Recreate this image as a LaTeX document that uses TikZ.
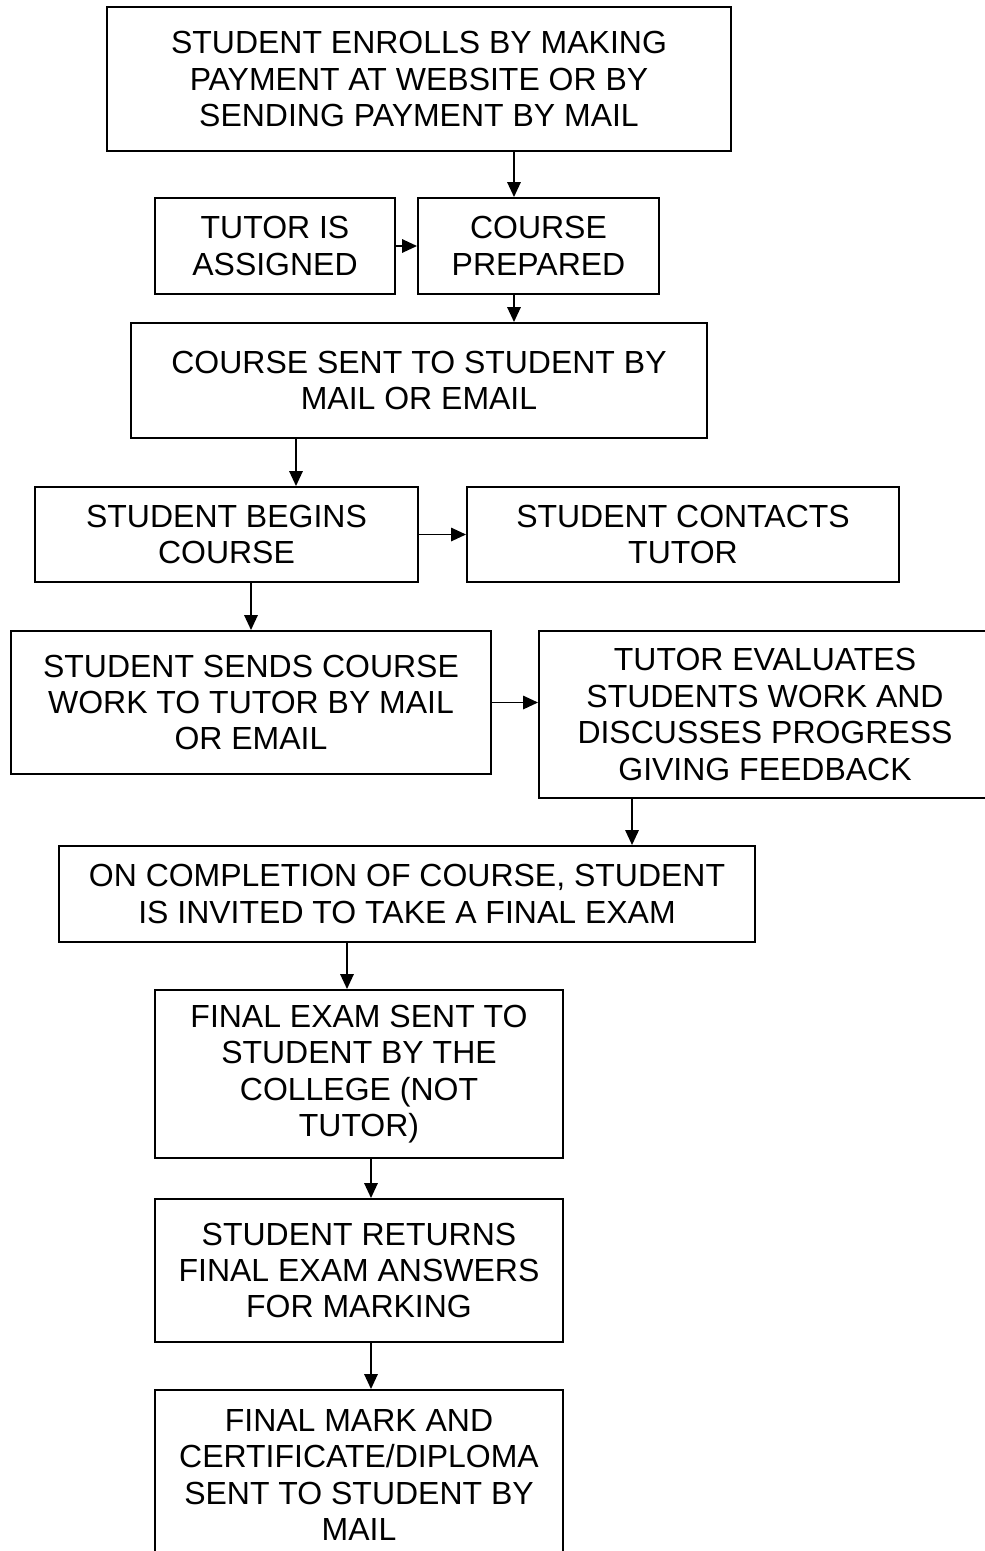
\documentclass[tikz,border=0pt]{standalone}
\usepackage{fontspec}
\setmainfont{Liberation Sans}
\usetikzlibrary{positioning,arrows.meta}
\tikzset{
  stage/.style   = {draw=black, line width=1.1pt, fill=white, align=center, inner sep=0pt,
                    font=\fontsize{18.2}{20.7}\selectfont},
  arrowto/.style = {-{Triangle[length=8.5pt,width=7.6pt]}, draw=black, line width=1.1pt},
}

\begin{document}
\begin{tikzpicture}[x=1cm,y=1cm]
  \clip (0,0) rectangle (19.7,-31.02);
  \fill[white] (0,0) rectangle (19.7,-31.02);

  % enrolment and preparation
  \node[stage, minimum width=12.48cm, minimum height=2.88cm] (enrol) at (8.38,-1.58)
    {STUDENT ENROLLS BY MAKING\\PAYMENT AT WEBSITE OR BY\\SENDING PAYMENT BY MAIL};
  \node[stage, minimum width=4.8cm, minimum height=1.92cm] (tutor) at (5.5,-4.92)
    {TUTOR IS\\ASSIGNED};
  \node[stage, minimum width=4.82cm, minimum height=1.92cm] (prepared) at (10.77,-4.92)
    {COURSE\\PREPARED};
  \node[stage, minimum width=11.52cm, minimum height=2.3cm] (sent) at (8.38,-7.61)
    {COURSE SENT TO STUDENT BY\\MAIL OR EMAIL};

  % course work
  \node[stage, minimum width=7.66cm, minimum height=1.9cm] (begins) at (4.53,-10.69)
    {STUDENT BEGINS\\COURSE};
  \node[stage, minimum width=8.64cm, minimum height=1.9cm] (contacts) at (13.66,-10.69)
    {STUDENT CONTACTS\\TUTOR};
  \node[stage, minimum width=9.6cm, minimum height=2.86cm] (sends) at (5.02,-14.05)
    {STUDENT SENDS COURSE\\WORK TO TUTOR BY MAIL\\OR EMAIL};
  \node[stage, minimum width=9.04cm, minimum height=3.34cm] (evaluates) at (15.3,-14.29)
    {TUTOR EVALUATES\\STUDENTS WORK AND\\DISCUSSES PROGRESS\\GIVING FEEDBACK};

  % final exam
  \node[stage, minimum width=13.92cm, minimum height=1.92cm] (completion) at (8.14,-17.88)
    {ON COMPLETION OF COURSE, STUDENT\\IS INVITED TO TAKE A FINAL EXAM};
  \node[stage, minimum width=8.16cm, minimum height=3.36cm] (examsent) at (7.18,-21.48)
    {FINAL EXAM SENT TO\\STUDENT BY THE\\COLLEGE (NOT\\TUTOR)};
  \node[stage, minimum width=8.16cm, minimum height=2.86cm] (returns) at (7.18,-25.41)
    {STUDENT RETURNS\\FINAL EXAM ANSWERS\\FOR MARKING};
  \node[stage, minimum width=8.16cm, minimum height=3.4cm] (mark) at (7.18,-29.5)
    {FINAL MARK AND\\CERTIFICATE/DIPLOMA\\SENT TO STUDENT BY\\MAIL};

  % arrows
  \draw[arrowto] ([xshift=-0.49cm]prepared.north |- enrol.south) -- ([xshift=-0.49cm]prepared.north);
  \draw[arrowto] (tutor) -- (prepared);
  \draw[arrowto] ([xshift=-0.49cm]prepared.south) -- ([xshift=-0.49cm]prepared.south |- sent.north);
  \draw[arrowto] ([xshift=1.39cm]begins.north |- sent.south) -- ([xshift=1.39cm]begins.north);
  \draw[arrowto] (begins) -- (contacts);
  \draw[arrowto] (sends.north |- begins.south) -- (sends.north);
  \draw[arrowto] (sends.east) -- (sends.east -| evaluates.west);
  \draw[arrowto] ([xshift=1.88cm]evaluates.south west) -- ([xshift=1.88cm]evaluates.south west |- completion.north);
  \draw[arrowto] ([xshift=-0.24cm]examsent.north |- completion.south) -- ([xshift=-0.24cm]examsent.north);
  \draw[arrowto] ([xshift=0.24cm]examsent.south) -- ([xshift=0.24cm]returns.north);
  \draw[arrowto] ([xshift=0.24cm]returns.south) -- ([xshift=0.24cm]mark.north);
\end{tikzpicture}
\end{document}
